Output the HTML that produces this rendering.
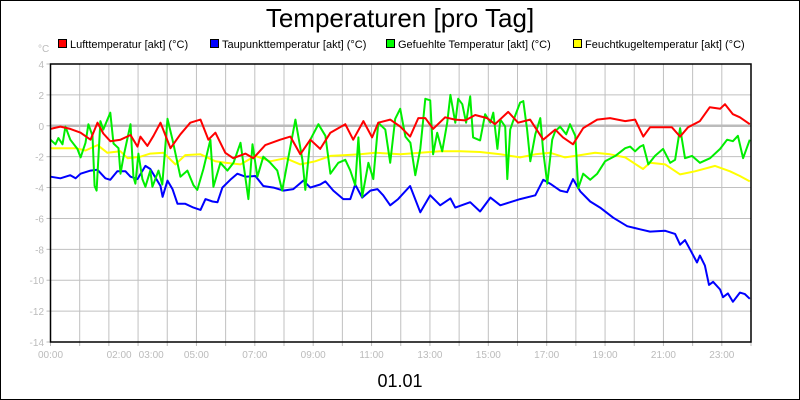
<!DOCTYPE html>
<html><head><meta charset="utf-8"><style>
html,body{margin:0;padding:0;background:#fff}
svg{display:block;font-family:"Liberation Sans",sans-serif}
</style></head><body>
<svg id="chart" width="800" height="400" viewBox="0 0 800 400">
<rect x="0.5" y="0.5" width="799" height="399" fill="#fff" stroke="#000"/>
<text x="400" y="27" text-anchor="middle" font-size="26">Temperaturen [pro Tag]</text>
<g font-size="11">
<g><rect x="58.5" y="39.5" width="8" height="8" fill="#f00" stroke="#000"/><text x="70" y="48">Lufttemperatur [akt] (°C)</text></g>
<g><rect x="210.5" y="39.5" width="8" height="8" fill="#00f" stroke="#000"/><text x="222" y="48">Taupunkttemperatur [akt] (°C)</text></g>
<g><rect x="386.5" y="39.5" width="8" height="8" fill="#0f0" stroke="#000"/><text x="398" y="48">Gefuehlte Temperatur [akt] (°C)</text></g>
<g><rect x="573.5" y="39.5" width="8" height="8" fill="#ff0" stroke="#000"/><text x="585" y="48">Feuchtkugeltemperatur [akt] (°C)</text></g>
</g>
<text x="38" y="52" font-size="10" fill="#bbb">°C</text>
<g id="grid"></g>
<g id="series"></g>
<g id="axes"></g>
<text x="400" y="387" text-anchor="middle" font-size="18">01.01</text>
</svg>
<script>
const yTicks = [4,2,0,-2,-4,-6,-8,-10,-12,-14];
const xTickLabels = ["00:00","02:00","03:00","05:00","07:00","09:00","11:00","13:00","15:00","17:00","19:00","21:00","23:00"];
const xTickLabelHours = [0,2.35,3.45,5,7,9,11,13,15,17,19,21,23];

const redT = [0,0.34,0.68,1.03,1.37,1.61,1.81,2.05,2.40,2.74,2.98,3.08,3.32,3.53,3.77,4.11,4.45,4.79,5.14,5.41,5.65,5.99,6.26,6.68,6.95,7.36,7.87,8.22,8.56,8.90,9.24,9.59,10.10,10.37,10.72,11.02,11.23,11.64,11.98,12.32,12.60,12.84,13.11,13.52,13.86,14.21,14.55,14.96,15.23,15.68,16.02,16.43,16.88,17.29,17.56,17.90,18.25,18.73,19.17,19.69,20.03,20.31,20.54,20.88,21.29,21.57,21.84,22.25,22.59,22.94,23.11,23.38,23.62,23.96];
const redV = [-0.2,-0.05,-0.2,-0.45,-0.9,0.2,-0.5,-1.0,-0.9,-0.6,-1.35,-0.7,-1.3,-0.65,0.2,-1.45,-0.55,0.2,0.4,-0.9,-0.45,-1.75,-2.1,-1.8,-2.1,-1.25,-0.9,-0.7,-1.85,-0.9,-1.5,-0.45,0.1,-0.9,0.3,-0.75,0.2,0.4,-0.05,-0.7,0.5,0.5,-0.2,0.55,0.4,0.35,0.7,0.5,0.1,0.9,0.2,0.4,-0.9,-0.25,-0.75,-1.2,-0.15,0.4,0.5,0.3,0.4,-0.7,-0.1,-0.1,-0.1,-0.7,-0.1,0.3,1.2,1.1,1.4,0.75,0.55,0.1];

const blueT = [0,0.34,0.68,0.86,1.03,1.37,1.61,1.88,2.05,2.29,2.57,2.74,2.98,3.25,3.42,3.77,3.84,4.01,4.18,4.35,4.62,4.90,5.14,5.31,5.55,5.72,5.89,6.16,6.40,6.68,7.02,7.29,7.64,7.98,8.32,8.66,8.90,9.24,9.42,9.69,10.03,10.27,10.44,10.68,10.96,11.20,11.40,11.64,11.91,12.32,12.67,13.01,13.35,13.70,13.87,14.38,14.72,15.07,15.41,15.75,16.09,16.61,16.88,17.12,17.46,17.70,17.90,18.15,18.49,18.83,19.28,19.76,20.20,20.54,21.06,21.40,21.57,21.74,21.91,22.15,22.25,22.42,22.56,22.70,22.94,23.04,23.21,23.38,23.62,23.79,23.96];
const blueV = [-3.3,-3.4,-3.2,-3.4,-3.1,-2.9,-2.85,-3.4,-3.5,-2.95,-2.95,-3.3,-3.45,-2.6,-2.8,-3.9,-4.6,-3.55,-4.1,-5.05,-5.05,-5.3,-5.45,-4.75,-4.9,-4.95,-4.0,-3.5,-3.1,-3.3,-3.25,-3.9,-4.0,-4.2,-4.1,-3.55,-4.0,-3.8,-3.6,-4.2,-4.75,-4.75,-3.8,-4.65,-4.2,-4.1,-4.5,-5.15,-4.75,-3.9,-5.6,-4.5,-5.15,-4.7,-5.3,-4.95,-5.55,-4.65,-5.15,-4.95,-4.75,-4.5,-3.5,-3.75,-4.2,-4.3,-3.45,-4.25,-4.9,-5.3,-5.95,-6.5,-6.7,-6.85,-6.8,-7.0,-7.7,-7.4,-8.0,-8.85,-8.4,-9.05,-10.3,-10.1,-10.6,-11.1,-10.85,-11.4,-10.8,-10.9,-11.2];

const greenT = [0,0.17,0.27,0.41,0.51,0.68,0.92,1.03,1.20,1.30,1.44,1.51,1.58,1.71,1.81,1.95,2.05,2.16,2.33,2.40,2.50,2.74,2.84,2.91,3.01,3.15,3.25,3.42,3.49,3.70,3.83,4.01,4.18,4.45,4.69,4.90,5.03,5.24,5.48,5.58,5.82,6.06,6.27,6.51,6.78,6.92,7.09,7.29,7.53,7.77,7.94,8.22,8.39,8.63,8.73,8.90,9.18,9.42,9.59,9.86,10.10,10.27,10.44,10.55,10.68,10.89,11.06,11.23,11.47,11.64,11.81,11.98,12.16,12.33,12.50,12.67,12.84,13.01,13.11,13.25,13.42,13.59,13.70,13.87,13.97,14.11,14.24,14.38,14.48,14.72,14.89,15.07,15.17,15.31,15.41,15.58,15.65,15.75,15.85,16.09,16.20,16.33,16.44,16.61,16.78,16.88,17.02,17.19,17.29,17.46,17.67,17.80,17.98,18.08,18.25,18.49,18.73,19.00,19.35,19.69,19.86,20.03,20.20,20.31,20.48,20.71,20.99,21.23,21.40,21.57,21.74,21.98,22.25,22.60,22.94,23.18,23.38,23.55,23.73,23.96];
const greenV = [-0.9,-1.2,-0.8,-1.2,-0.05,-0.9,-1.5,-2.05,-1.1,0.1,-0.65,-3.9,-4.2,0.3,-0.25,0.4,0.85,-1.15,-1.45,-3.1,-2.0,0.1,-3.3,-3.75,-1.8,-3.45,-3.95,-2.9,-3.95,-2.9,-3.8,0.45,-0.9,-3.3,-2.9,-3.85,-4.15,-2.8,-0.9,-3.95,-2.4,-2.9,-2.4,-1.1,-4.75,-1.2,-3.3,-2.0,-2.4,-2.9,-4.2,-1.35,0.4,-2.2,-4.15,-0.9,0.1,-0.65,-3.1,-2.4,-2.2,-2.9,-3.85,-0.75,-4.6,-2.4,-3.45,0.2,-0.25,-2.4,0.45,1.1,-0.7,-1.1,-3.2,-1.5,1.75,1.65,-1.85,-0.45,-1.65,0.2,2.0,0.2,1.75,1.4,0.2,1.9,-0.75,-0.95,0.75,0.2,0.85,-1.5,0.4,-0.05,-3.45,-0.25,0.3,1.5,1.6,-0.25,-2.3,-0.55,0.5,-1.65,-3.75,-0.9,-0.35,-0.05,-0.55,0.1,-0.65,-4.05,-3.1,-3.5,-3.1,-2.3,-1.95,-1.45,-1.35,-1.65,-1.35,-1.25,-2.5,-1.95,-1.5,-2.4,-2.2,-0.15,-2.1,-1.95,-2.4,-2.1,-1.5,-0.9,-1.0,-0.65,-2.1,-0.9];

const yellowT = [0,0.86,1.20,1.61,1.95,2.40,2.64,3.08,3.42,3.87,4.28,4.62,5.14,5.65,5.99,6.51,7.02,7.53,8.05,8.56,9.07,9.59,10.10,10.61,11.13,11.64,11.98,12.67,13.35,14.04,14.72,15.41,16.09,16.61,17.12,17.63,18.15,18.66,19.17,19.69,20.30,20.54,21.06,21.57,22.08,22.77,23.28,23.62,23.96];
const yellowV = [-1.45,-1.45,-1.6,-1.25,-1.75,-1.65,-2.1,-2.0,-1.8,-1.75,-2.5,-1.9,-1.85,-2.3,-2.4,-2.5,-1.95,-2.3,-2.1,-2.5,-2.3,-1.95,-1.9,-1.85,-1.75,-1.8,-1.85,-1.75,-1.65,-1.65,-1.7,-1.85,-2.05,-1.85,-1.75,-2.05,-1.9,-1.75,-1.85,-2.05,-2.8,-2.4,-2.5,-3.15,-2.95,-2.6,-2.95,-3.25,-3.6];

const NS = "http://www.w3.org/2000/svg";
const L = 50.5, R = 751, T = 64, B = 342;
const xMin = 0, xMax = 24, yMin = -14, yMax = 4;
function sx(h){ return L + (h - xMin) / (xMax - xMin) * (R - L); }
function sy(v){ return B - (v - yMin) / (yMax - yMin) * (B - T); }
function mk(tag, attrs, parent){
  const e = document.createElementNS(NS, tag);
  for (const k in attrs) e.setAttribute(k, attrs[k]);
  parent.appendChild(e);
  return e;
}
const grid = document.getElementById('grid');
const axes = document.getElementById('axes');
const series = document.getElementById('series');

for (let h = 1; h < 24; h++) {
  const gl = mk('line', {x1: sx(h), x2: sx(h), y1: T, y2: B, stroke: '#c0c0c0', 'stroke-width': 1}, grid);
  
  
}
yTicks.forEach(v => {
  if (v !== yMin && v !== yMax) {
    const gl = mk('line', {x1: L, x2: R, y1: sy(v), y2: sy(v), stroke: v === 0 ? '#bbbbbb' : '#c0c0c0', 'stroke-width': v === 0 ? 2.5 : 1}, grid);
    
    
  }
  const tk = mk('line', {x1: L - 4, x2: L, y1: sy(v), y2: sy(v), stroke: '#bbb'}, axes);
  
  
  const tl = mk('text', {x: 44, y: sy(v) + 4, 'text-anchor': 'end', 'font-size': 10, fill: '#bbb'}, axes);
  
  
  tl.textContent = v;
});
for (let h = 0; h <= 24; h++) {
  const tk = mk('line', {x1: sx(h), x2: sx(h), y1: B, y2: B + 4, stroke: '#bbb'}, axes);
  
  
}
xTickLabels.forEach((lab, i) => {
  const tl = mk('text', {x: sx(xTickLabelHours[i]), y: 358, 'text-anchor': 'middle', 'font-size': 10, fill: '#bbb'}, axes);
  
  
  tl.textContent = lab;
});
const frame = mk('rect', {x: L, y: T, width: R - L, height: B - T, fill: 'none', stroke: '#000', 'stroke-width': 1.5}, axes);



function drawLine(ts, vs, color, name){
  const d = ts.map((t, i) => (i ? 'L' : 'M') + sx(t).toFixed(1) + ',' + sy(vs[i]).toFixed(1)).join('');
  const p = mk('path', {d: d, fill: 'none', stroke: color, 'stroke-width': 2, 'stroke-linejoin': 'round'}, series);
  
  
}
drawLine(yellowT, yellowV, '#ffff00', 'feuchtkugeltemperatur-line');
drawLine(blueT, blueV, '#0000ff', 'taupunkttemperatur-line');
drawLine(greenT, greenV, '#00ee00', 'gefuehlte-temperatur-line');
drawLine(redT, redV, '#ff0000', 'lufttemperatur-line');
</script>
</body></html>
